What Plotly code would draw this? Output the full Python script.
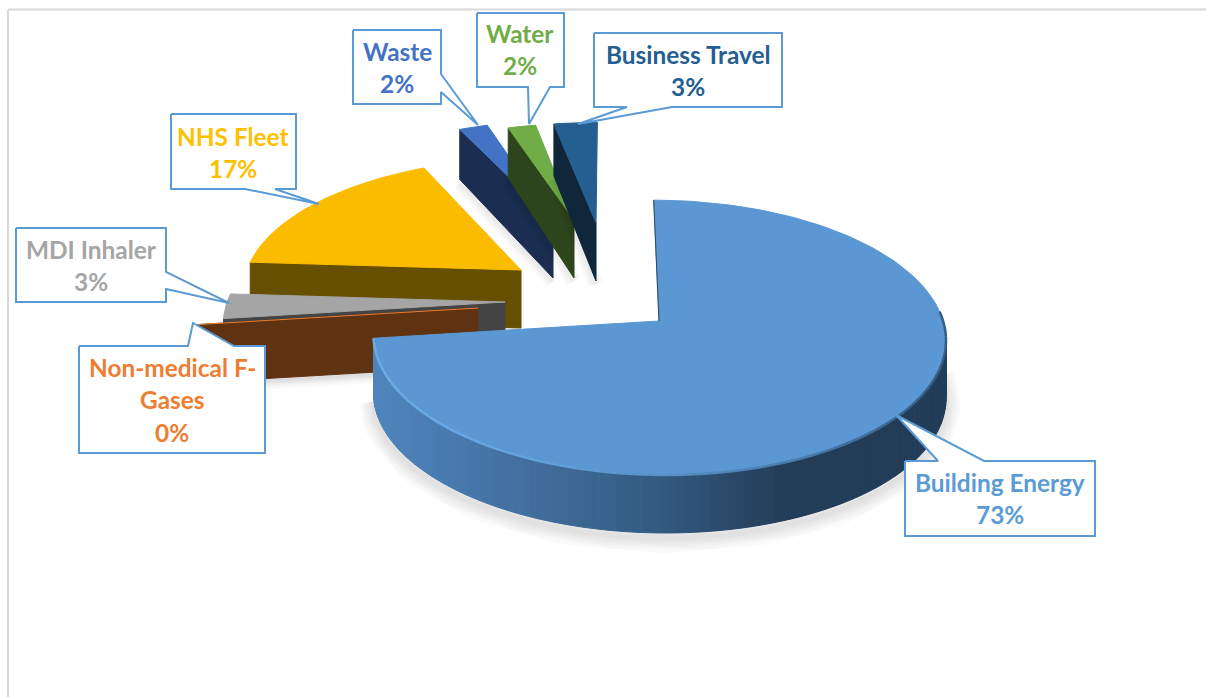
import math
import plotly.graph_objects as go

# Emission shares, clockwise from twelve o'clock
categories = ["Building Energy", "Non-medical F-Gases", "MDI Inhaler", "NHS Fleet",
              "Waste", "Water", "Business Travel"]
shares = [73, 0, 3, 17, 2, 2, 3]

top_colors = ["#5B98D3", "#ED7D31", "#A5A5A5", "#FBBC00", "#4472C4", "#70AD47", "#255E91"]
wall_colors = ["#233D58", "#5F3212", "#444444", "#664F00", "#1B2D50", "#2D451C", "#0F263B"]
label_colors = ["#5B9BD5", "#ED7D31", "#A5A5A5", "#FFC000", "#4472C4", "#70AD47", "#255E91"]

# Where each exploded slice's tip sits, how far its rim reaches, and the wall height at that rim
tips = [(659, 321), (478, 308), (505, 302), (521, 270), (553, 220), (574, 220), (596, 223)]
reach = [0.99, 0.975, 0.985, 1.0, 0.97, 0.94, 0.98]
rim_depth = [58, 58, 58, 58, 50, 50, 52]

# Perspective of the tilted disc
VANISH_X, HORIZON, FOCAL, RADIUS, TILT, DEPTH = 610, -800, 1121, 287, 0.122, 58


def rim_point(tip, scale, angle):
    u0 = FOCAL / (tip[1] - HORIZON)
    x0 = (tip[0] - VANISH_X) * u0 / RADIUS
    a = math.radians(angle)
    u = u0 + TILT * scale * math.cos(a)
    return (VANISH_X + RADIUS * (x0 + scale * math.sin(a)) / u, HORIZON + FOCAL / u)


def arc(tip, scale, start, end, step=1.5):
    n = max(2, int(abs(end - start) / step) + 1)
    return [rim_point(tip, scale, start + (end - start) * i / (n - 1)) for i in range(n)]


def polygon(fig, pts, fill, line=None, width=1):
    fig.add_trace(go.Scatter(
        x=[p[0] for p in pts] + [pts[0][0]], y=[p[1] for p in pts] + [pts[0][1]],
        mode="lines", fill="toself", fillcolor=fill,
        line=dict(color=line or fill, width=width), hoverinfo="skip", showlegend=False))


def stroke(fig, pts, color, width):
    fig.add_trace(go.Scatter(
        x=[p[0] for p in pts], y=[p[1] for p in pts], mode="lines",
        line=dict(color=color, width=width), hoverinfo="skip", showlegend=False))


def soft_shadow(fig, pts, drop=4, layers=6, spread=4, alpha=0.018):
    shifted = [(x, y + drop) for x, y in pts]
    for i in range(1, layers + 1):
        stroke(fig, shifted, f"rgba(0,0,0,{alpha})", i * spread)


def lowered(pts):
    return [(x, y + DEPTH) for x, y in pts]


def mix(c1, c2, t):
    return "rgb(" + ",".join(str(round(a + (b - a) * t)) for a, b in zip(c1, c2)) + ")"


def side_shade(x):
    stops = [(374, (79, 133, 189)), (520, (66, 112, 160)), (660, (51, 90, 128)),
             (782, (35, 61, 88)), (960, (35, 61, 88))]
    for (x0, c0), (x1, c1) in zip(stops, stops[1:]):
        if x <= x1:
            return mix(c0, c1, max(0.0, (x - x0) / (x1 - x0)))
    return mix(stops[-1][1], stops[-1][1], 0)


fig = go.Figure()

# Slice angles follow directly from the shares
edges = [0.0]
for s in shares:
    edges.append(edges[-1] + s * 3.6)

# Exploded slices, far to near
for i in [4, 5, 6, 3, 2, 1]:
    tip, r = tips[i], reach[i]
    start, end = edges[i], edges[i + 1]
    rim_start = rim_point(tip, r, start)
    base = [(rim_start[0], rim_start[1] + rim_depth[i]), (tip[0], tip[1] + DEPTH)]
    soft_shadow(fig, base, drop=3, layers=4, spread=4)
    polygon(fig, [rim_start, tip] + base[::-1], wall_colors[i])
    if i == 1:
        stroke(fig, [rim_start, tip], top_colors[i], 1)
    else:
        polygon(fig, [tip] + arc(tip, r, start, end), top_colors[i])

# Main slice: curved side, then top surface with a bevelled rim
tip, r = tips[0], reach[0]
front = arc(tip, r, 86, edges[1])
soft_shadow(fig, lowered(front), drop=5, layers=6, spread=5)
for a, b in zip(front, front[1:]):
    polygon(fig, [a, b, (b[0], b[1] + DEPTH), (a[0], a[1] + DEPTH)], side_shade((a[0] + b[0]) / 2))
top_arc = arc(tip, r, edges[0], edges[1])
polygon(fig, [tip] + top_arc, top_colors[0])
stroke(fig, [rim_point(tip, r, 0), tip], "#2B4A69", 1)
for a, b in zip(front, front[1:]):
    t = (a[0] - 374) / (945 - 374)
    glow = mix((106, 172, 232), (52, 92, 132), min(1, max(0, t)) ** 1.6)
    stroke(fig, [a, b], glow, 2.5)

# Callouts: box outline with a pointer running to the slice
callouts = [
    [(905, 461), (938, 461), (896, 415), (984, 461), (1095, 461), (1095, 536), (905, 536)],
    [(79, 346), (188, 346), (193, 323), (234, 346), (265, 346), (265, 453), (79, 453)],
    [(16, 228), (166, 228), (166, 272), (229, 303), (166, 289), (166, 302), (16, 302)],
    [(171, 114), (296, 114), (296, 189), (275, 189), (319, 204), (245, 189), (171, 189)],
    [(353, 30), (441, 30), (441, 74), (478, 125), (441, 92), (441, 104), (353, 104)],
    [(477, 13), (564, 13), (564, 87), (550, 87), (529, 124), (528, 87), (477, 87)],
    [(594, 33), (782, 33), (782, 107), (672, 107), (578, 124), (627, 107), (594, 107)],
]
for outline in callouts:
    polygon(fig, outline, "#FFFFFF", "#5B9BD5", 2)

# Each label is the category name over its share
label_lines = [
    [categories[0], f"{shares[0]}%"],
    ["Non-medical F-", "Gases", f"{shares[1]}%"],
    [categories[2], f"{shares[2]}%"],
    [categories[3], f"{shares[3]}%"],
    [categories[4], f"{shares[4]}%"],
    [categories[5], f"{shares[5]}%"],
    [categories[6], f"{shares[6]}%"],
]
label_centres = [(1000, 482), (172, 367), (91, 249), (233, 136), (397, 51), (520, 33), (688, 54)]
annotations = []
for lines, (cx, cy), color in zip(label_lines, label_centres, label_colors):
    for n, text in enumerate(lines):
        annotations.append(dict(
            x=cx, y=cy + n * 32.5, text=text, showarrow=False, xanchor="center", yanchor="middle",
            font=dict(family="Lato, 'Open Sans', sans-serif", size=24.4, color=color, weight="bold")))

fig.update_layout(
    width=1206, height=697, margin=dict(l=0, r=0, t=0, b=0),
    paper_bgcolor="#FFFFFF", plot_bgcolor="#FFFFFF", showlegend=False,
    xaxis=dict(range=[0, 1206], visible=False, fixedrange=True),
    yaxis=dict(range=[697, 0], visible=False, fixedrange=True),
    annotations=annotations,
    shapes=[
        dict(type="line", x0=8, x1=1206, y0=9.5, y1=9.5, line=dict(color="#D9D9D9", width=2)),
        dict(type="line", x0=8, x1=8, y0=9.5, y1=697, line=dict(color="#D9D9D9", width=2)),
    ],
)

fig.write_html("out.html")
